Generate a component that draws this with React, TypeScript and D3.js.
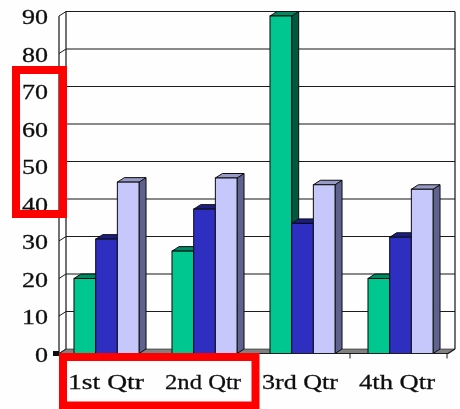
import React from "react";
import * as d3 from "d3";

const categories = ["1st Qtr", "2nd Qtr", "3rd Qtr", "4th Qtr"];
const seriesGreen = [20, 27.3, 90, 20];
const seriesBlue = [30.5, 38.5, 34.7, 31];
const seriesLavender = [45.7, 46.8, 45, 43.8];
const yTicks = [0, 10, 20, 30, 40, 50, 60, 70, 80, 90];

const W = 460, H = 409;
const left = 59, right = 447, wallRight = 448, top = 16, floor = 353.5;
const dx = 7, dy = 4.5;
const y = d3.scaleLinear().domain([0, 90]).range([floor, top]);
const x = d3.scaleBand<string>().domain(categories).range([left, right]);
const barX = d3.scaleBand<string>().domain(categories).range([left, 451]);
const inner = d3.scaleBand<number>().domain([0, 1, 2]).range([0, barX.bandwidth()]).paddingInner(0).paddingOuter(0.76).align(0.455);

const styles = [
  { values: seriesGreen, front: "#00c78f", topc: "#008a63", side: "#00583e" },
  { values: seriesBlue, front: "#2e2fc0", topc: "#1e1f85", side: "#16175f" },
  { values: seriesLavender, front: "#c6c8fb", topc: "#9799c6", side: "#5f628f" },
];
const serif = "'Liberation Serif', serif";
const line = "#1a1a1a";

export default function App() {
  const poly = (pts: number[][]) => {
    const p = d3.path();
    pts.forEach(([a, b], i) => (i ? p.lineTo(a, b) : p.moveTo(a, b)));
    p.closePath();
    return p.toString();
  };
  return (
    <svg width={W} height={H} viewBox={`0 0 ${W} ${H}`} style={{ position: "absolute", left: 0, top: 0, background: "#fefefe" }}>
      <defs>
        <filter id="soft" x="-5%" y="-5%" width="110%" height="110%">
          <feGaussianBlur stdDeviation="0.35" />
        </filter>
      </defs>
      <g filter="url(#soft)">
        <path d={poly([[left, floor], [left + dx, floor - dy], [wallRight + dx, floor - dy], [wallRight, floor]])} fill="#808080" stroke={line} strokeWidth={0.6} />
        {yTicks.map((t) => (
          <g key={t}>
            {t > 0 && <line x1={left + dx} x2={wallRight + dx} y1={y(t) - dy} y2={y(t) - dy} stroke={line} strokeWidth={1.2} />}
            <line x1={left} x2={left + dx} y1={y(t)} y2={y(t) - dy} stroke={line} strokeWidth={1} />
            <text x={48} y={y(t) + 8} textAnchor="end" fontFamily={serif} fontSize={21} stroke="#111" strokeWidth={0.3} fill="#111"
              textLength={String(t).length * 13} lengthAdjust="spacingAndGlyphs">{t}</text>
          </g>
        ))}
        <rect x={53} y={y(0) - 2.5} width={6} height={5} fill="#111" />
        <line x1={left} x2={left} y1={top} y2={floor} stroke={line} strokeWidth={1.2} />
        <line x1={left + dx} x2={left + dx} y1={top - dy} y2={floor - dy} stroke={line} strokeWidth={1.2} />
        <line x1={wallRight + dx} x2={wallRight + dx} y1={top - dy} y2={floor - dy} stroke={line} strokeWidth={1.2} />
        <line x1={wallRight} x2={wallRight + dx} y1={floor} y2={floor - dy} stroke={line} strokeWidth={1.2} />

        {categories.map((c, ci) => (
          <g key={c}>
            {styles.map((s, si) => {
              const x0 = (barX(c) as number) + (inner(si) as number);
              const w = inner.bandwidth();
              const yt = y(s.values[ci]);
              const b = floor;
              return (
                <g key={si} stroke="#0c0c0c" strokeWidth={1}>
                  <path d={poly([[x0 + w, yt], [x0 + w + dx, yt - dy], [x0 + w + dx, b - dy], [x0 + w, b]])} fill={s.side} />
                  <path d={poly([[x0, yt], [x0 + dx, yt - dy], [x0 + w + dx, yt - dy], [x0 + w, yt]])} fill={s.topc} />
                  <rect x={x0} y={yt} width={w} height={b - yt} fill={s.front} />
                </g>
              );
            })}
          </g>
        ))}

        <line x1={left} x2={wallRight} y1={floor} y2={floor} stroke={line} strokeWidth={1.2} />
        {categories.map((c) => (
          <line key={c} x1={(x(c) as number) + x.bandwidth()} x2={(x(c) as number) + x.bandwidth()} y1={floor} y2={floor + 5} stroke={line} strokeWidth={1} />
        ))}
        {categories.map((c) => (
          <text key={c} x={(x(c) as number) + x.bandwidth() / 2 - 1.5} y={389} textAnchor="middle" fontFamily={serif} fontSize={22} stroke="#111" strokeWidth={0.3} fill="#111"
            textLength={76} lengthAdjust="spacingAndGlyphs">{c}</text>
        ))}
      </g>
      <rect x={16} y={70} width={47} height={144} fill="none" stroke="#fe0000" strokeWidth={8} />
      <rect x={63} y={357} width={192.5} height={48.5} fill="none" stroke="#fe0000" strokeWidth={8} />
    </svg>
  );
}
